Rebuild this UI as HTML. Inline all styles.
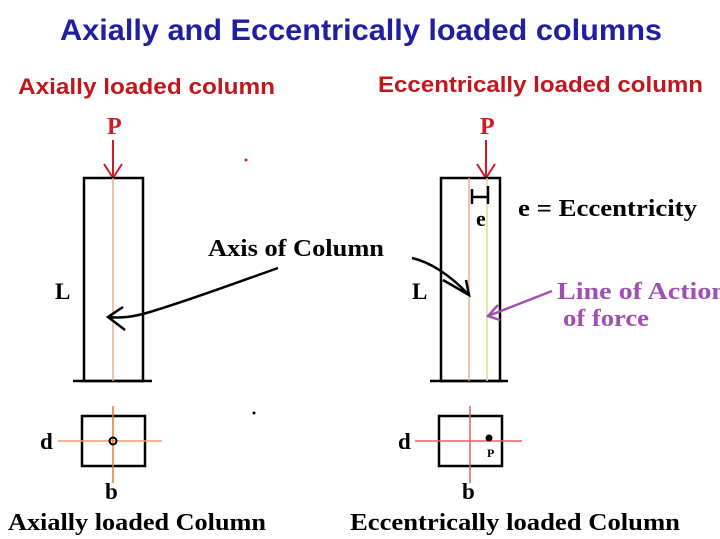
<!DOCTYPE html>
<html><head><meta charset="utf-8"><style>html,body{margin:0;padding:0;background:#fff}svg{display:block}</style></head>
<body>
<svg width="720" height="539" viewBox="0 0 720 539" xmlns="http://www.w3.org/2000/svg">
<rect width="720" height="539" fill="#fff"/>
<text x="60" y="40" font-family="Liberation Sans" font-weight="bold" font-size="30" fill="#1f1fa0" textLength="602" lengthAdjust="spacingAndGlyphs">Axially and Eccentrically loaded columns</text>
<text x="18" y="94" font-family="Liberation Sans" font-weight="bold" font-size="22" fill="#c0161c" textLength="257" lengthAdjust="spacingAndGlyphs">Axially loaded column</text>
<text x="378" y="92" font-family="Liberation Sans" font-weight="bold" font-size="22" fill="#c0161c" textLength="325" lengthAdjust="spacingAndGlyphs">Eccentrically loaded column</text>

<g font-family="Liberation Serif" font-weight="bold">
<text x="107" y="134" font-size="24" fill="#d01c2a">P</text>
<line x1="113" y1="140" x2="113" y2="178" stroke="#d01c2a" stroke-width="2"/>
<polyline points="104,164 113,178 122,164" fill="none" stroke="#d01c2a" stroke-width="2"/>
<rect x="84" y="178" width="59" height="203" fill="none" stroke="#000" stroke-width="2.5"/>
<line x1="73" y1="381" x2="152" y2="381" stroke="#000" stroke-width="2.5"/>
<line x1="113" y1="178" x2="113" y2="381" stroke="#e8b090" stroke-width="1.5"/>
<text x="55" y="299" font-size="23" fill="#000">L</text>
<text x="208" y="256" font-size="24" fill="#000" textLength="176" lengthAdjust="spacingAndGlyphs">Axis of Column</text>
<path d="M278,268 C230,285 190,300 150,312 C130,318 118,318 108,317" fill="none" stroke="#000" stroke-width="2.5"/>
<polyline points="123,307 108,317 125,330" fill="none" stroke="#000" stroke-width="2.5"/>

<rect x="82" y="416" width="63" height="50" fill="none" stroke="#000" stroke-width="2.5"/>
<line x1="58" y1="441" x2="162" y2="441" stroke="#e8a070" stroke-width="1.5"/>
<line x1="113" y1="406" x2="113" y2="483" stroke="#e07a30" stroke-width="1.5"/>
<circle cx="113" cy="441" r="3.5" fill="none" stroke="#000" stroke-width="2"/>
<text x="40" y="449" font-size="23">d</text>
<text x="105" y="499" font-size="23">b</text>
<text x="8" y="530" font-size="24" textLength="258" lengthAdjust="spacingAndGlyphs">Axially loaded Column</text>

<text x="480" y="134" font-size="24" fill="#d01c2a">P</text>
<line x1="486" y1="140" x2="486" y2="178" stroke="#d01c2a" stroke-width="2"/>
<polyline points="477,164 486,178 495,164" fill="none" stroke="#d01c2a" stroke-width="2"/>
<rect x="441" y="178" width="59" height="203" fill="none" stroke="#000" stroke-width="2.5"/>
<line x1="430" y1="381" x2="508" y2="381" stroke="#000" stroke-width="2.5"/>
<line x1="469" y1="178" x2="469" y2="381" stroke="#e8b090" stroke-width="1.5"/>
<line x1="487" y1="178" x2="487" y2="381" stroke="#d8e090" stroke-width="1.5"/>
<line x1="472" y1="189" x2="472" y2="204" stroke="#000" stroke-width="2.5"/>
<line x1="488" y1="186" x2="488" y2="204" stroke="#000" stroke-width="2.5"/>
<line x1="472" y1="197" x2="488" y2="197" stroke="#000" stroke-width="2.5"/>
<text x="476" y="226" font-size="22">e</text>
<text x="518" y="216" font-size="24" textLength="179" lengthAdjust="spacingAndGlyphs">e = Eccentricity</text>
<text x="412" y="299" font-size="23">L</text>
<path d="M412,258 C430,262 450,275 469,295" fill="none" stroke="#000" stroke-width="2.5"/>
<polyline points="443,280 469,295 466,280" fill="none" stroke="#000" stroke-width="2.5"/>
<text x="557" y="299" font-size="24" fill="#a050b0" textLength="170" lengthAdjust="spacingAndGlyphs">Line of Action</text>
<text x="563" y="326" font-size="24" fill="#a050b0" textLength="86" lengthAdjust="spacingAndGlyphs">of force</text>
<line x1="552" y1="291" x2="488" y2="316" stroke="#a050b0" stroke-width="2.5"/>
<polyline points="498,305 488,316 500,320" fill="none" stroke="#a050b0" stroke-width="2.5"/>

<rect x="439" y="416" width="63" height="50" fill="none" stroke="#000" stroke-width="2.5"/>
<line x1="415" y1="441" x2="522" y2="441" stroke="#e86060" stroke-width="1.5"/>
<line x1="470" y1="406" x2="470" y2="483" stroke="#e06060" stroke-width="1.5"/>
<circle cx="489" cy="438" r="3.5" fill="#000"/>
<text x="487" y="457" font-size="12">P</text>
<text x="398" y="449" font-size="23">d</text>
<text x="462" y="499" font-size="23">b</text>
<text x="350" y="530" font-size="24" textLength="330" lengthAdjust="spacingAndGlyphs">Eccentrically loaded Column</text>
</g>
<circle cx="246" cy="160" r="1.5" fill="#d01c2a"/>
<circle cx="254" cy="413" r="1.5" fill="#000"/>
</svg>
</body></html>
